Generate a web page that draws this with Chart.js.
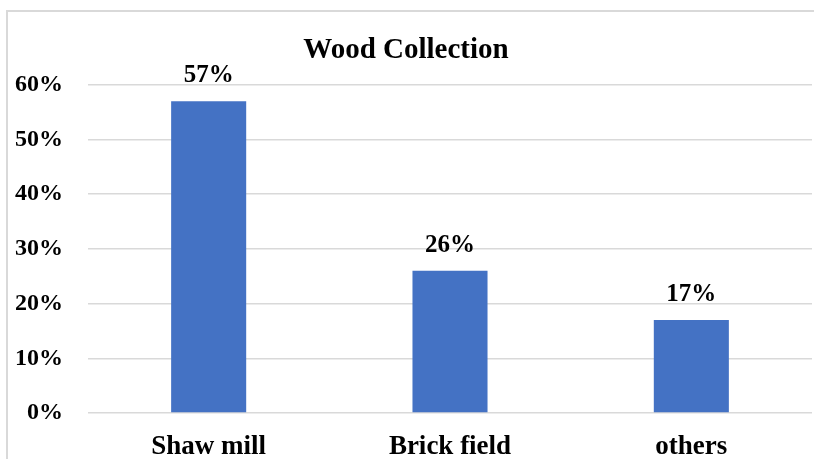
<!DOCTYPE html>
<html>
<head>
<meta charset="utf-8">
<script src="https://cdn.jsdelivr.net/npm/chart.js@4.4.1/dist/chart.umd.min.js"></script>
<style>
  html, body { margin: 0; padding: 0; background: #ffffff; overflow: hidden; }
  #wrap { position: relative; width: 814px; height: 459px; }
  #frame { position: absolute; left: 6px; top: 10px; width: 900px; height: 600px;
           border-top: 2px solid #d9d9d9; border-left: 2px solid #d9d9d9; }
  canvas { position: absolute; left: 0; top: 0; }
</style>
</head>
<body>
<div id="wrap">
  <div id="frame"></div>
  <canvas id="c" width="814" height="459"></canvas>
</div>
<script>
const titleText = "Wood Collection";
const categories = ["Shaw mill", "Brick field", "others"];
const values = [57, 26, 17];
const yTicks = [0, 10, 20, 30, 40, 50, 60];

const FONT = '"Liberation Serif", "Times New Roman", serif';

const dataLabelPlugin = {
  id: 'dataLabels',
  afterDatasetsDraw(chart) {
    const ctx = chart.ctx;
    const meta = chart.getDatasetMeta(0);
    ctx.save();
    ctx.font = 'bold 25px ' + FONT;
    ctx.fillStyle = '#000000';
    ctx.textAlign = 'center';
    ctx.textBaseline = 'alphabetic';
    meta.data.forEach((bar, i) => {
      ctx.fillText(values[i] + '%', bar.x, bar.y - 19);
    });
    ctx.restore();
  }
};

new Chart(document.getElementById('c'), {
  type: 'bar',
  data: {
    labels: categories,
    datasets: [{
      data: values,
      backgroundColor: '#4472C4',
      borderWidth: 0,
      categoryPercentage: 1.0,
      barPercentage: 0.311
    }]
  },
  options: {
    responsive: false,
    animation: false,
    layout: { padding: { left: 0, right: 2, top: 0, bottom: 0 } },
    plugins: {
      legend: { display: false },
      tooltip: { enabled: false },
      title: {
        display: true,
        text: titleText,
        color: '#000000',
        font: { family: FONT, size: 29, weight: 'bold', lineHeight: 1.2 },
        padding: { top: 33, bottom: 17 }
      }
    },
    scales: {
      x: {
        grid: { display: false, drawTicks: false },
        border: { display: false },
        ticks: {
          color: '#000000',
          font: { family: FONT, size: 27, weight: 'bold' },
          padding: 18,
          maxRotation: 0
        },
        afterFit(scale) { scale.height = 46; }
      },
      y: {
        min: 0,
        max: 60,
        afterBuildTicks(scale) { scale.ticks = yTicks.map(v => ({ value: v })); },
        grid: { color: '#d9d9d9', lineWidth: 1.5, drawTicks: false },
        border: { display: false },
        ticks: {
          color: '#000000',
          font: { family: FONT, size: 24, weight: 'bold' },
          padding: 25,
          callback: v => v + '%'
        },
        afterFit(scale) { scale.width = 88; }
      }
    }
  },
  plugins: [dataLabelPlugin]
});
</script>
</body>
</html>
